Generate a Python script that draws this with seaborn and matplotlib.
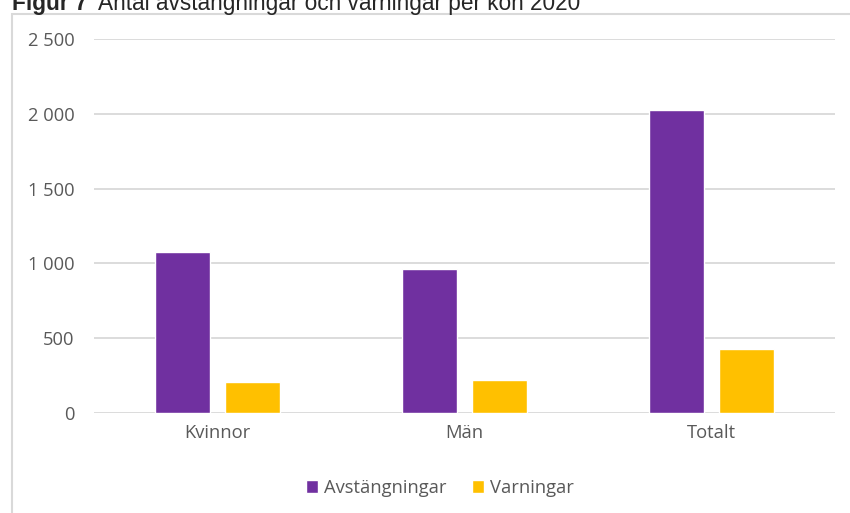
import pandas as pd
import seaborn as sns
import matplotlib.pyplot as plt
from matplotlib.patches import Rectangle
from matplotlib.ticker import FuncFormatter

categories = ["Kvinnor", "Män", "Totalt"]
avstangningar = [1075, 965, 2028]
varningar = [208, 218, 425]
series = ["Avstängningar", "Varningar"]
colors = ["#7030a0", "#ffc000"]

df = pd.DataFrame({
    "kategori": categories * 2,
    "serie": [series[0]] * 3 + [series[1]] * 3,
    "antal": avstangningar + varningar,
})

sns.set_style("white")
plt.rcParams['font.family'] = ['Open Sans', 'DejaVu Sans']

fig = plt.figure(figsize=(8.5, 5.13), dpi=100)
ax = fig.add_axes([94 / 850, 100 / 513, 741 / 850, 374 / 513])

sns.barplot(df, x="kategori", y="antal", hue="serie", palette=colors,
            width=0.567, gap=0.21, saturation=1, ax=ax, legend=True)

ax.set_xlim(-0.5, 2.5)
ax.set_ylim(0, 2500)
ax.set_yticks([0, 500, 1000, 1500, 2000, 2500])
ax.yaxis.set_major_formatter(FuncFormatter(lambda v, p: f"{int(v):,}".replace(",", " ")))
ax.grid(axis="y", color="#d9d9d9", lw=1.3)
ax.set_axisbelow(True)
for s in ax.spines.values():
    s.set_visible(False)
ax.tick_params(axis="both", length=0, labelsize=13.2, labelcolor="#595959")
ax.tick_params(axis="y", pad=14)
ax.tick_params(axis="x", pad=8)
ax.set_xlabel("")
ax.set_ylabel("")

ax.legend(loc="center", bbox_to_anchor=(440 / 850, 1 - 488 / 513), bbox_transform=fig.transFigure,
          ncol=2, frameon=False, fontsize=13.2, labelcolor="#595959",
          handlelength=0.65, handleheight=0.65, handletextpad=0.35, columnspacing=1.4)

# ramen runt diagrammet
fig.patches.append(Rectangle((12 / 850, -0.1), 1.0, 1 - 13.5 / 513 + 0.1, transform=fig.transFigure,
                             fill=False, edgecolor="#d9d9d9", lw=1.5))

fig.text(12 / 850, 1 - 10 / 513, "Figur 7", fontsize=16.3, fontweight="bold",
         family="Liberation Sans", va="baseline")
fig.text(98 / 850, 1 - 10 / 513, "Antal avstängningar och varningar per kön 2020", fontsize=16.3,
         family="Liberation Sans", va="baseline")

fig.savefig("out.png", dpi=100)
